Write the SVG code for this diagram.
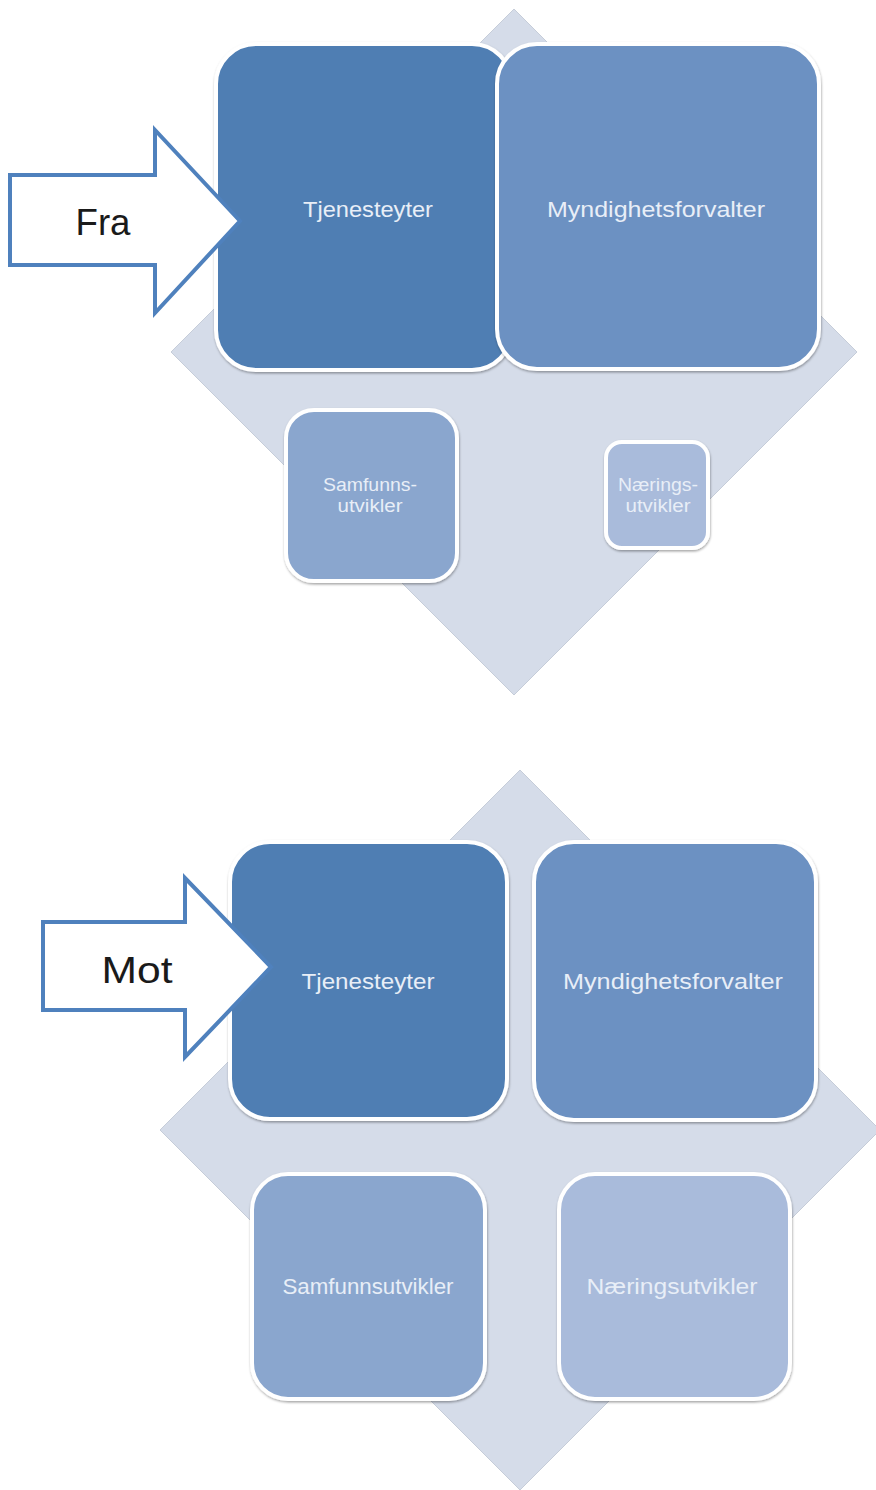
<svg xmlns="http://www.w3.org/2000/svg" width="876" height="1490" viewBox="0 0 876 1490">
  <defs>
    <filter id="sh" x="-10%" y="-10%" width="120%" height="120%">
      <feDropShadow dx="0.5" dy="1.5" stdDeviation="1.2" flood-color="#000" flood-opacity="0.35"/>
    </filter>
    <style>
      .bg { fill: #d5dce9; stroke: #c6cdd9; stroke-width: 1; }
      .box { stroke: #ffffff; stroke-width: 4; filter: url(#sh); }
      .c1 { fill: #4f7eb3; }
      .c2 { fill: #6c91c2; }
      .c3 { fill: #8aa6ce; }
      .c4 { fill: #a9bbdb; }
      .lbl { font-family: "Liberation Sans", Arial, sans-serif; font-size: 22px; fill: #e8eef7; text-anchor: middle; }
      .sm { font-size: 18px; }
      .arrow { fill: #ffffff; stroke: #4f81bd; stroke-width: 4; stroke-linejoin: miter; }
      .atxt { font-family: "Liberation Sans", Arial, sans-serif; font-size: 37px; fill: #1a1a1a; text-anchor: middle; }
    </style>
  </defs>
  <rect width="876" height="1490" fill="#ffffff"/>

  <!-- Top figure -->
  <g id="top-background">
    <polygon class="bg" points="514,9 857,352 514,695 171,352"/>
  </g>
  <g id="top-tjenesteyter">
    <rect class="box c1" x="216" y="44" width="296" height="326" rx="40"/>
    <text class="lbl" x="368" y="217" textLength="130" lengthAdjust="spacingAndGlyphs">Tjenesteyter</text>
  </g>
  <g id="top-myndighetsforvalter">
    <rect class="box c2" x="497" y="44" width="322" height="325" rx="40"/>
    <text class="lbl" x="656" y="217" textLength="218" lengthAdjust="spacingAndGlyphs">Myndighetsforvalter</text>
  </g>
  <g id="top-samfunnsutvikler">
    <rect class="box c3" x="286" y="410" width="171" height="171" rx="28"/>
    <text class="lbl sm" x="370" y="491" textLength="94" lengthAdjust="spacingAndGlyphs">Samfunns-</text>
    <text class="lbl sm" x="370" y="512" textLength="65" lengthAdjust="spacingAndGlyphs">utvikler</text>
  </g>
  <g id="top-naeringsutvikler">
    <rect class="box c4" x="606" y="442" width="102" height="106" rx="16"/>
    <text class="lbl sm" x="658" y="491" textLength="80" lengthAdjust="spacingAndGlyphs">Nærings-</text>
    <text class="lbl sm" x="658" y="512" textLength="65" lengthAdjust="spacingAndGlyphs">utvikler</text>
  </g>
  <g id="arrow-fra">
    <polygon class="arrow" points="10,175 155,175 155,130 240,221 155,313 155,265 10,265"/>
    <text class="atxt" x="103" y="235" textLength="55" lengthAdjust="spacingAndGlyphs">Fra</text>
  </g>

  <!-- Bottom figure -->
  <g id="bottom-background">
    <polygon class="bg" points="520,770 880,1130 520,1490 160,1130"/>
  </g>
  <g id="bottom-tjenesteyter">
    <rect class="box c1" x="230" y="842" width="277" height="277" rx="40"/>
    <text class="lbl" x="368" y="989" textLength="133" lengthAdjust="spacingAndGlyphs">Tjenesteyter</text>
  </g>
  <g id="bottom-myndighetsforvalter">
    <rect class="box c2" x="534" y="842" width="282" height="278" rx="40"/>
    <text class="lbl" x="673" y="989" textLength="220" lengthAdjust="spacingAndGlyphs">Myndighetsforvalter</text>
  </g>
  <g id="bottom-samfunnsutvikler">
    <rect class="box c3" x="252" y="1174" width="233" height="225" rx="36"/>
    <text class="lbl" x="368" y="1294" textLength="171" lengthAdjust="spacingAndGlyphs">Samfunnsutvikler</text>
  </g>
  <g id="bottom-naeringsutvikler">
    <rect class="box c4" x="559" y="1174" width="231" height="225" rx="36"/>
    <text class="lbl" x="672" y="1294" textLength="171" lengthAdjust="spacingAndGlyphs">Næringsutvikler</text>
  </g>
  <g id="arrow-mot">
    <polygon class="arrow" points="43,922 185,922 185,878 271,967 185,1057 185,1010 43,1010"/>
    <text class="atxt" x="137" y="983" textLength="71" lengthAdjust="spacingAndGlyphs">Mot</text>
  </g>

  <g id="connectors"></g>
</svg>
